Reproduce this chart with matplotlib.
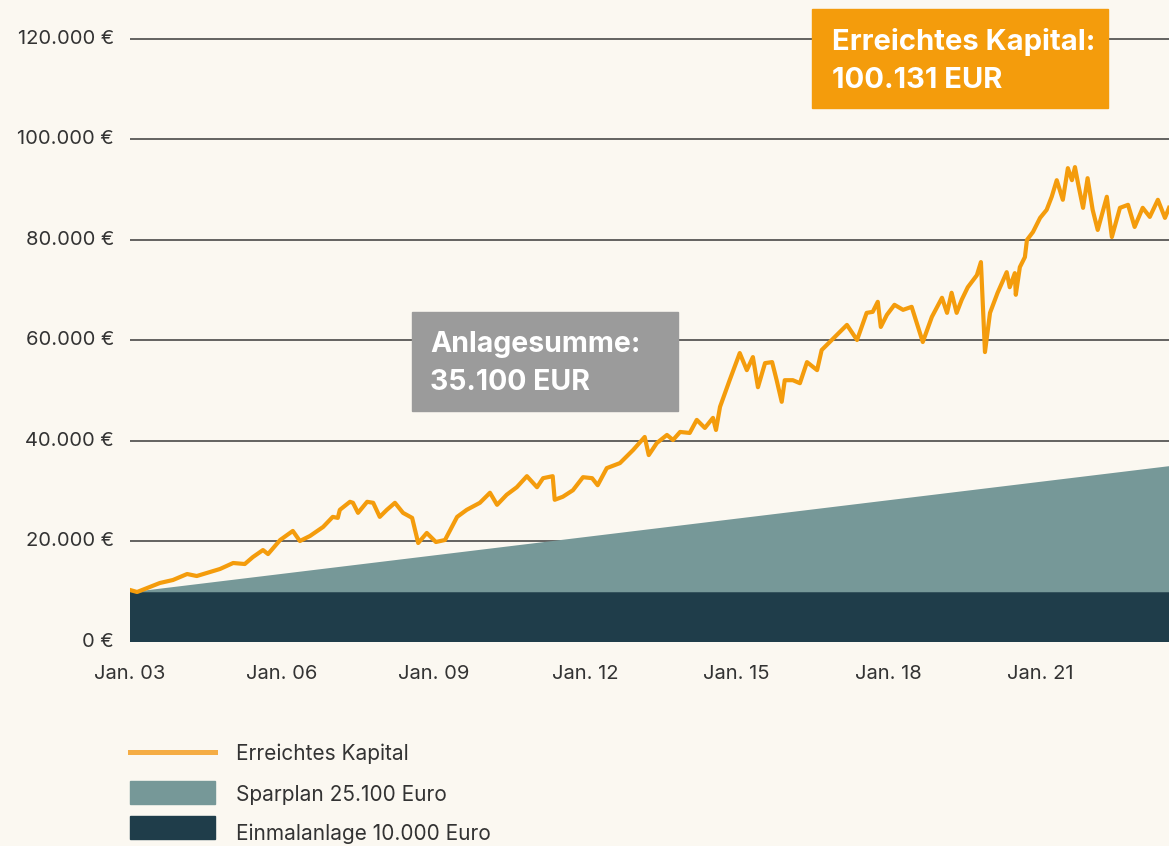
import matplotlib.pyplot as plt
from matplotlib.lines import Line2D
from matplotlib.patches import Rectangle

# ===============================
# DATA
# ===============================
# years since Jan. 2003 and value of the portfolio in EUR
kapital_t = [
    0.00, 0.14, 0.59, 0.85, 1.13, 1.32, 1.52, 1.78, 2.04, 2.27, 2.43, 2.63, 2.73,
    2.97, 3.22, 3.36, 3.56, 3.82, 4.01, 4.11, 4.15, 4.35, 4.41, 4.51, 4.69, 4.81,
    4.94, 5.08, 5.24, 5.40, 5.58, 5.70, 5.87, 6.05, 6.23, 6.47, 6.66, 6.92, 7.12,
    7.26, 7.45, 7.65, 7.85, 8.05, 8.17, 8.36, 8.40, 8.56, 8.76, 8.96, 9.14, 9.25,
    9.43, 9.69, 9.95, 10.18, 10.26, 10.42, 10.62, 10.74, 10.88, 11.07, 11.21,
    11.37, 11.53, 11.59, 11.67, 11.86, 12.06, 12.20, 12.32, 12.42, 12.56, 12.70,
    12.79, 12.89, 12.95, 13.11, 13.25, 13.39, 13.59, 13.68, 13.88, 14.18, 14.38,
    14.57, 14.69, 14.79, 14.85, 14.97, 15.12, 15.29, 15.46, 15.68, 15.86, 16.06,
    16.16, 16.25, 16.35, 16.45, 16.57, 16.75, 16.83, 16.91, 17.01, 17.16, 17.34,
    17.40, 17.50, 17.52, 17.60, 17.70, 17.74, 17.86, 18.00, 18.13, 18.23, 18.33,
    18.45, 18.55, 18.63, 18.69, 18.75, 18.85, 18.94, 19.04, 19.14, 19.32, 19.42,
    19.58, 19.74, 19.87, 20.03, 20.17, 20.33, 20.47, 20.55,
]
kapital = [
    10350, 9950, 11740, 12340, 13530, 13130, 13730, 14530, 15720, 15520, 16900,
    18300, 17500, 20300, 22100, 20100, 21100, 22900, 24900, 24700, 26300, 27900,
    27700, 25700, 27900, 27700, 24900, 26300, 27700, 25700, 24700, 19700, 21700,
    19900, 20300, 24900, 26300, 27700, 29700, 27300, 29300, 30800, 33000, 30800,
    32600, 33000, 28300, 28900, 30200, 32800, 32600, 31200, 34600, 35600, 38200,
    40800, 37200, 39600, 41200, 40200, 41800, 41600, 44200, 42600, 44600, 42200,
    46800, 52100, 57500, 54100, 56700, 50700, 55500, 55700, 52100, 47800, 52100,
    52100, 51500, 55700, 54100, 58100, 60100, 63100, 60100, 65500, 65700, 67700,
    62700, 65100, 67100, 66100, 66700, 59700, 64700, 68500, 65500, 69500, 65500,
    68100, 70600, 73000, 75600, 57700, 65500, 69500, 73600, 70600, 73400, 69100,
    74600, 76600, 80000, 81600, 84400, 86000, 88600, 91900, 88000, 94300, 91900,
    94500, 91300, 86400, 92300, 86000, 82000, 88600, 80600, 86400, 87000, 82600,
    86400, 84600, 88000, 84400, 86400,
]
# paid in: one-off 10.000 EUR + savings plan up to 35.100 EUR
invest_t = [0.00, 20.55]
einmal = [10000, 10000]
anlagesumme = [10000, 35100]

y_ticks = [0, 20000, 40000, 60000, 80000, 100000, 120000]
y_labels = ["0 €", "20.000 €", "40.000 €", "60.000 €", "80.000 €", "100.000 €", "120.000 €"]
x_ticks = [0, 3, 6, 9, 12, 15, 18]
x_labels = ["Jan. 03", "Jan. 06", "Jan. 09", "Jan. 12", "Jan. 15", "Jan. 18", "Jan. 21"]

# ===============================
# STYLE
# ===============================
BG = "#fbf8f1"
ORANGE = "#f49c0c"
SPAR = "#769898"
DARK = "#1f3d4a"
GREY = "#9b9b9b"
TXT = "#333333"
plt.rcParams["font.family"] = ["Inter", "DejaVu Sans"]

W, H = 1169, 846
fig = plt.figure(figsize=(W / 100, H / 100), dpi=100, facecolor=BG)
ax = fig.add_axes([130 / W, (H - 642) / H, 1 - 130 / W, 642 / H])
ax.set_facecolor(BG)

# gridlines behind everything
for v in y_ticks[1:]:
    ax.axhline(v, color="#3a3a3a", lw=1.1, zorder=0)

ax.fill_between(invest_t, 0, einmal, color=DARK, lw=0, zorder=2)
ax.fill_between(invest_t, einmal, anlagesumme, color=SPAR, lw=0, zorder=2)
ax.plot(kapital_t, kapital, color=ORANGE, lw=3.0, solid_joinstyle="round", zorder=3)

ax.set_xlim(0, 20.55)
ax.set_ylim(0, 127760)
for s in ax.spines.values():
    s.set_visible(False)
ax.set_yticks([])
ax.set_xticks([])

# y labels (right aligned, left of plot) and x labels
for v, lab in zip(y_ticks, y_labels):
    ax.text(-16 / 50.57, v, lab, ha="right", va="center", fontsize=14.5, color=TXT)
for t, lab in zip(x_ticks, x_labels):
    ax.text(t, -6400, lab, ha="center", va="center", fontsize=14.5, color=TXT, clip_on=False)

# annotation boxes
fig.patches.append(Rectangle((812 / W, 1 - 108 / H), 296 / W, 99 / H,
                             transform=fig.transFigure, color=ORANGE, zorder=5))
fig.text(832 / W, 1 - 50 / H, "Erreichtes Kapital:", color="white", fontsize=21,
         fontweight="bold", va="baseline", zorder=6)
fig.text(832 / W, 1 - 88 / H, "100.131 EUR", color="white", fontsize=21,
         fontweight="bold", va="baseline", zorder=6)

fig.patches.append(Rectangle((412 / W, 1 - 411 / H), 266 / W, 99 / H,
                             transform=fig.transFigure, color=GREY, zorder=5))
fig.text(430 / W, 1 - 352 / H, "Anlagesumme:", color="white", fontsize=20.5,
         fontweight="bold", va="baseline", zorder=6)
fig.text(430 / W, 1 - 390 / H, "35.100 EUR", color="white", fontsize=20.5,
         fontweight="bold", va="baseline", zorder=6)

# legend
fig.lines.append(Line2D([130 / W, 215 / W], [1 - 752 / H, 1 - 752 / H],
                        transform=fig.transFigure, color="#f5ad45", lw=3.6))
fig.patches.append(Rectangle((130 / W, 1 - 804 / H), 85 / W, 23 / H,
                             transform=fig.transFigure, color=SPAR))
fig.patches.append(Rectangle((130 / W, 1 - 839 / H), 85 / W, 23 / H,
                             transform=fig.transFigure, color=DARK))
for yy, lab in [(754, "Erreichtes Kapital"), (795, "Sparplan 25.100 Euro"),
                (834, "Einmalanlage 10.000 Euro")]:
    fig.text(236 / W, 1 - yy / H, lab, fontsize=15, color=TXT, va="center")

fig.savefig("out.png", dpi=100, facecolor=BG)
